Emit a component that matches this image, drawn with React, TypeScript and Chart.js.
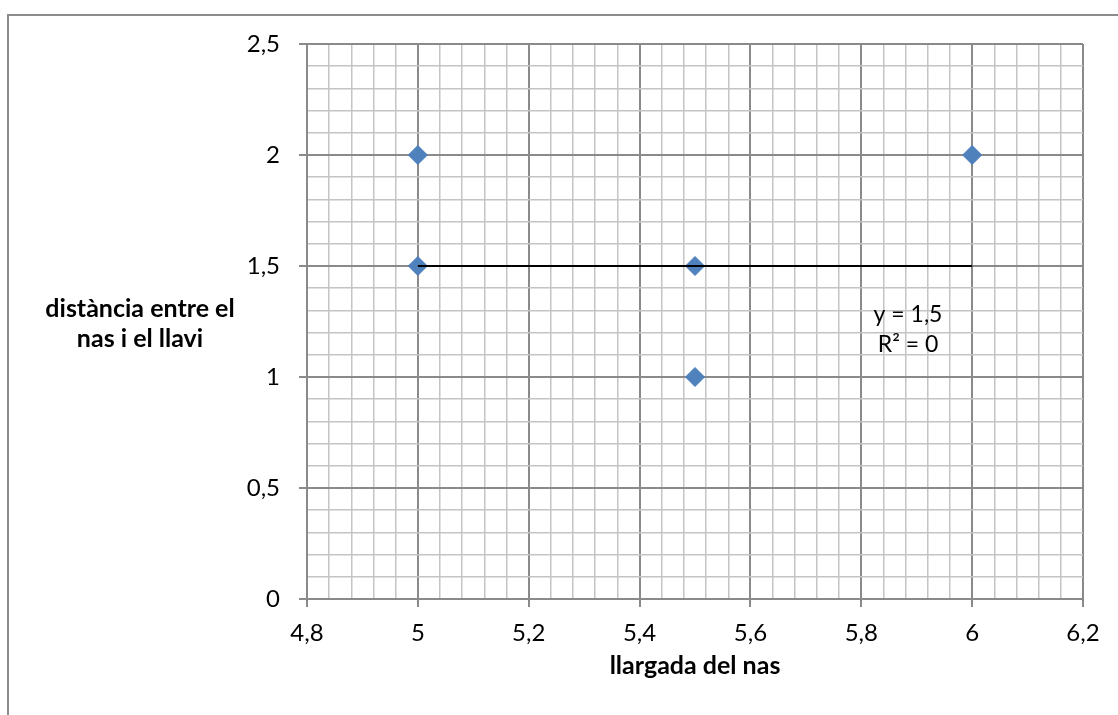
import React, { useEffect, useRef } from "react";
import { Chart, registerables } from "chart.js";

Chart.register(...registerables);

// ---- data ----
const pointsX = [5, 5, 5.5, 5.5, 6];
const pointsY = [2, 1.5, 1.5, 1, 2];
const trendX = [5, 6];
const trendY = [1.5, 1.5];
const xMin = 4.8;
const xMax = 6.2;
const xMinorStep = 0.04;
const xMajorStep = 0.2;
const yMin = 0;
const yMax = 2.5;
const yMinorStep = 0.1;
const yMajorStep = 0.5;
const xTitle = "llargada del nas";
const yTitleLines = ["distància entre el", "nas i el llavi"];
const trendLabelLines = ["y = 1,5", "R² = 0"];

const FONT = "Lato, 'Liberation Sans', sans-serif";
const MAJOR = "#8a8a8a";
const MINOR = "#c4c4c4";

const isMajor = (v: number, step: number) =>
  Math.abs(v / step - Math.round(v / step)) < 1e-6;
const fmt = (v: number) => String(Math.round(v * 10) / 10).replace(".", ",");

const textPlugin = {
  id: "textPlugin",
  afterDraw(chart: any) {
    const ctx = chart.ctx as CanvasRenderingContext2D;
    const area = chart.chartArea;
    ctx.save();
    ctx.fillStyle = "#000";
    ctx.textAlign = "center";
    ctx.textBaseline = "middle";
    ctx.font = `bold 25px ${FONT}`;
    ctx.fillText(xTitle, (area.left + area.right) / 2, 666);
    yTitleLines.forEach((l, i) => ctx.fillText(l, 140, 309 + i * 30));
    ctx.font = `23px ${FONT}`;
    trendLabelLines.forEach((l, i) => ctx.fillText(l, 908, 315 + i * 30));
    ctx.restore();
  },
};

export default function App() {
  const ref = useRef<HTMLCanvasElement | null>(null);
  useEffect(() => {
    if (!ref.current) return;
    const chart = new Chart(ref.current, {
      type: "scatter",
      data: {
        datasets: [
          {
            type: "line",
            data: trendX.map((x, i) => ({ x, y: trendY[i] })),
            borderColor: "#000",
            borderWidth: 2,
            pointRadius: 0,
            fill: false,
            order: 0,
          } as any,
          {
            data: pointsX.map((x, i) => ({ x, y: pointsY[i] })),
            backgroundColor: "#4F81BD",
            borderColor: "#4A7EBB",
            borderWidth: 1,
            pointStyle: "rectRot",
            pointRadius: 9.5,
            order: 1,
          },
        ],
      },
      options: {
        animation: false,
        responsive: false,
        layout: { padding: { left: 0, top: 44, right: 35, bottom: 0 } },
        plugins: { legend: { display: false }, tooltip: { enabled: false } },
        scales: {
          x: {
            type: "linear",
            position: "bottom",
            min: xMin,
            max: xMax,
            afterFit: (s: any) => {
              s.height = 116;
            },
            ticks: {
              stepSize: xMinorStep,
              autoSkip: false,
              maxRotation: 0,
              padding: 12,
              color: "#000",
              font: { family: FONT, size: 24 },
              callback: (v: any) => (isMajor(Number(v), xMajorStep) ? fmt(Number(v)) : ""),
            },
            grid: {
              color: (c: any) => (isMajor(c.tick.value, xMajorStep) ? MAJOR : MINOR),
              tickColor: (c: any) => (isMajor(c.tick.value, xMajorStep) ? MAJOR : "rgba(0,0,0,0)"),
              lineWidth: (c: any) => (isMajor(c.tick.value, xMajorStep) ? 2 : 1.5),
              tickLength: 8,
            },
            border: { color: MAJOR, width: 2 },
          },
          y: {
            type: "linear",
            min: yMin,
            max: yMax,
            afterFit: (s: any) => {
              s.width = 307;
            },
            ticks: {
              stepSize: yMinorStep,
              autoSkip: false,
              padding: 19,
              color: "#000",
              font: { family: FONT, size: 24 },
              callback: (v: any) => (isMajor(Number(v), yMajorStep) ? fmt(Number(v)) : ""),
            },
            grid: {
              color: (c: any) => (isMajor(c.tick.value, yMajorStep) ? MAJOR : MINOR),
              tickColor: (c: any) => (isMajor(c.tick.value, yMajorStep) ? MAJOR : "rgba(0,0,0,0)"),
              lineWidth: (c: any) => (isMajor(c.tick.value, yMajorStep) ? 2 : 1.5),
              tickLength: 8,
            },
            border: { color: MAJOR, width: 2 },
          },
        },
      },
      plugins: [textPlugin],
    });
    return () => chart.destroy();
  }, []);

  return (
    <div style={{ position: "fixed", left: 0, top: 0, width: 1118, height: 715, background: "#fff", overflow: "hidden" }}>
      <div
        style={{
          position: "absolute",
          left: 7,
          top: 14,
          width: 1300,
          height: 900,
          borderLeft: "2px solid #8c8c8c",
          borderTop: "2px solid #8c8c8c",
          boxSizing: "border-box",
        }}
      />
      <canvas ref={ref} width={1118} height={715} style={{ position: "absolute", left: 0, top: 0 }} />
    </div>
  );
}
